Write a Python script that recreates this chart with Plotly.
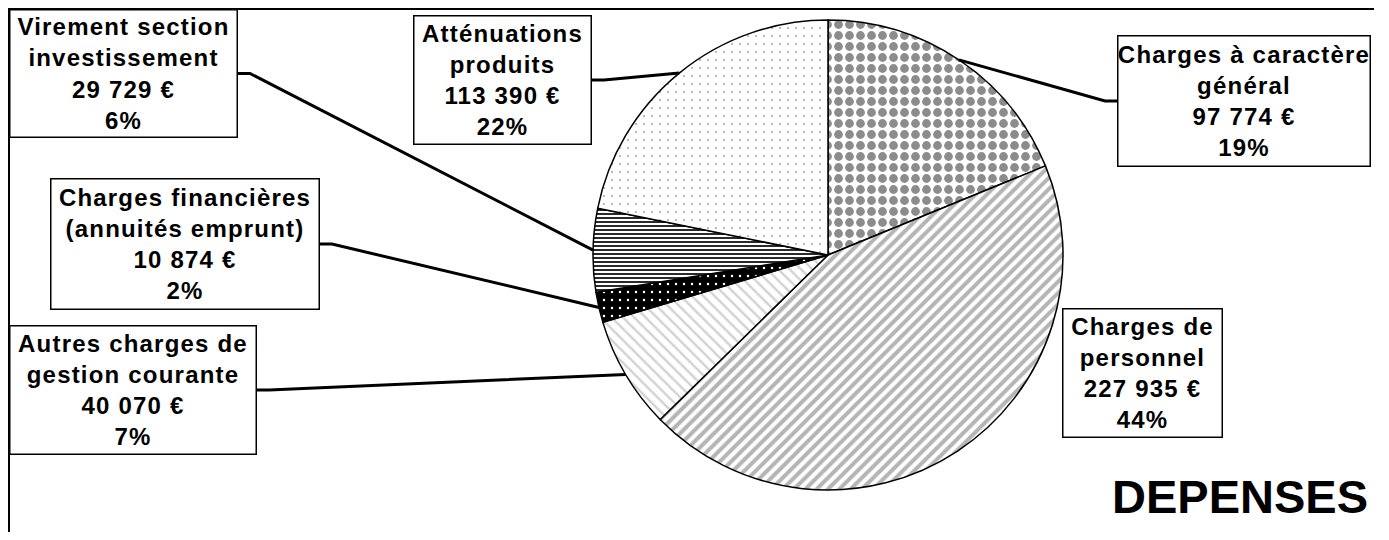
import math
import plotly.graph_objects as go

WIN_W, WIN_H = 1389, 540
OFF = 8  # page body margin in the browser
W, H = WIN_W - 2 * OFF - 7, WIN_H - 2 * OFF  # figure size that fits the visible window

# ---------------- data ----------------
categories = [
    "Charges à caractère général",
    "Charges de personnel",
    "Autres charges de gestion courante",
    "Charges financières (annuités emprunt)",
    "Virement section investissement",
    "Atténuations produits",
]
label_lines = [
    ["Charges à caractère", "général"],
    ["Charges de", "personnel"],
    ["Autres charges de", "gestion courante"],
    ["Charges financières", "(annuités emprunt)"],
    ["Virement section", "investissement"],
    ["Atténuations", "produits"],
]
amounts = [97774, 227935, 40070, 10874, 29729, 113390]
percent_labels = ["19%", "44%", "7%", "2%", "6%", "22%"]
title_text = "DEPENSES"

# ---------------- styles ----------------
pat_shape = [".", "/", "\\", ".", "-", "."]
pat_fg = ["#8c8c8c", "#b4b4b4", "#d2d2d2", "#ffffff", "#111111", "#9a9a9a"]
pat_bg = ["#ffffff", "#ffffff", "#ffffff", "#000000", "#ffffff", "#ffffff"]
pat_size = [11, 8, 8, 8, 4, 8]
pat_solid = [0.5, 0.5, 0.3, 0.08, 0.45, 0.04]

# layout geometry (window pixels, top-left origin)
pie_px = dict(x0=593, x1=1063, y0=20, y1=490)
boxes = [  # x0, y0, x1, y1, side of leader ("L" = left side of box, "R" = right side, None)
    (1117, 35, 1371, 167, "L"),
    (1062, 308, 1223, 438, None),
    (9, 325, 257, 455, "R"),
    (50, 178, 320, 310, "R"),
    (9, 9, 238, 138, "R"),
    (413, 15, 592, 145, "R"),
]
STUB = 12
FONT = "Liberation Sans, Arial, sans-serif"


def px(x):
    return (x - OFF) / W


def py(y):
    return 1 - (y - OFF) / H


fig = go.Figure()
fig.add_trace(go.Pie(
    labels=categories,
    values=amounts,
    sort=False,
    direction="clockwise",
    rotation=0,
    textinfo="none",
    showlegend=False,
    domain=dict(x=[px(pie_px["x0"]), px(pie_px["x1"])],
                y=[py(pie_px["y1"]), py(pie_px["y0"])]),
    marker=dict(
        colors=pat_bg,
        line=dict(color="black", width=1.5),
        pattern=dict(shape=pat_shape, fgcolor=pat_fg, bgcolor=pat_bg,
                     size=pat_size, solidity=pat_solid, fillmode="replace"),
    ),
))

# pie geometry for leader lines
cx = (pie_px["x0"] + pie_px["x1"]) / 2
cy = (pie_px["y0"] + pie_px["y1"]) / 2
R = min(pie_px["x1"] - pie_px["x0"], pie_px["y1"] - pie_px["y0"]) / 2
total = sum(amounts)

shapes = []
annotations = []
cum = 0
for i, v in enumerate(amounts):
    mid = (cum + v / 2) / total * 2 * math.pi
    cum += v
    ex, ey = cx + R * math.sin(mid), cy - R * math.cos(mid)
    x0, y0, x1, y1, side = boxes[i]
    ym = (y0 + y1) / 2
    if side is not None:
        if side == "R":
            ax, sx = x1, x1 + STUB
        else:
            ax, sx = x0, x0 - STUB
        path = "M{},{} L{},{} L{},{}".format(px(ax), py(ym), px(sx), py(ym), px(ex), py(ey))
        shapes.append(dict(type="path", path=path, xref="paper", yref="paper",
                           line=dict(color="black", width=3)))
    amount_txt = "{:,}".format(v).replace(",", " ") + " €"
    lines = label_lines[i] + [amount_txt, percent_labels[i]]
    txt = "<br>".join("<span style='letter-spacing:1.2px'>" + l + "</span>" for l in lines)
    annotations.append(dict(
        x=px((x0 + x1) / 2), y=py(ym), xref="paper", yref="paper",
        xanchor="center", yanchor="middle", showarrow=False,
        text=txt, align="center", valign="middle",
        width=(x1 - x0) - 3, height=(y1 - y0) - 3,
        bgcolor="white", bordercolor="black", borderwidth=1.5, borderpad=0,
        font=dict(family=FONT, size=24, color="black", weight="bold"),
    ))

annotations.append(dict(
    x=px(1370), y=py(496), xref="paper", yref="paper",
    xanchor="right", yanchor="middle", showarrow=False,
    text=title_text, font=dict(family=FONT, size=47, color="black", weight="bold"),
))

# chart frame
shapes.insert(0, dict(type="rect", xref="paper", yref="paper",
                      x0=px(9), y0=-0.05, x1=1.05, y1=py(9),
                      line=dict(color="black", width=2), layer="below"))

fig.update_layout(
    width=W, height=H,
    margin=dict(l=0, r=0, t=0, b=0),
    paper_bgcolor="white", plot_bgcolor="white",
    shapes=shapes, annotations=annotations,
)

fig.write_html("out.html")
